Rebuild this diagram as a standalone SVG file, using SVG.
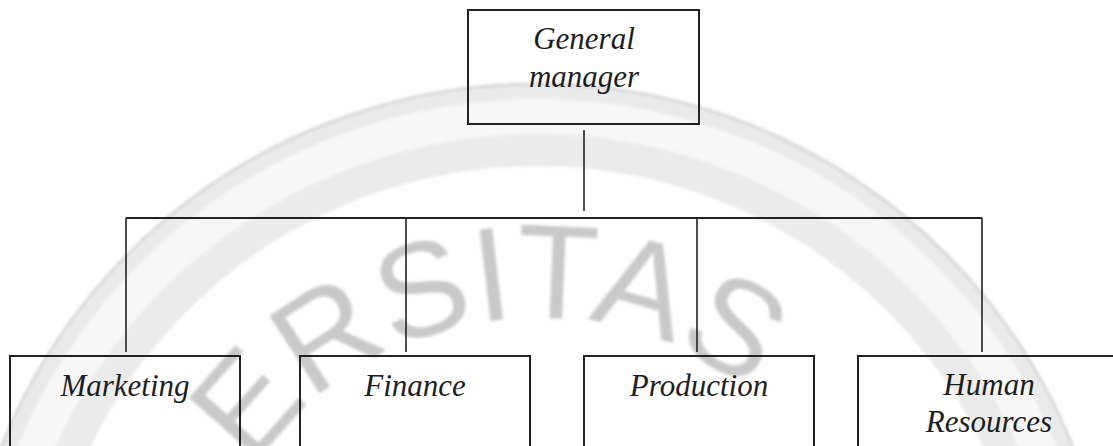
<svg xmlns="http://www.w3.org/2000/svg" width="1113" height="446" viewBox="0 0 1113 446">
  <style>
    .box { fill: none; stroke: #222; stroke-width: 2; }
    .link { fill: none; stroke: #222; stroke-width: 1.6; }
    .bus { fill: none; stroke: #222; stroke-width: 2; }
    .label { font-family: "Liberation Serif", "Times New Roman", serif; font-style: italic; font-size: 31px; fill: #1e1e1e; text-anchor: middle; }
    .wm-text { font-family: "Liberation Sans", Arial, sans-serif; font-size: 134px; letter-spacing: 0px; fill: #c9c9c9; }
  </style>
  <defs>
    <filter id="soft" x="-10%" y="-10%" width="120%" height="120%">
      <feGaussianBlur stdDeviation="1.6"/>
    </filter>
    <!-- upper half of the seal's lettering circle -->
    <path id="sealArc" d="M 194 661 A 343 343 0 0 1 880 661"/>
  </defs>

  <rect width="1113" height="446" fill="#ffffff"/>

  <!-- faint seal in the background -->
  <g id="seal" filter="url(#soft)">
    <circle cx="537" cy="661" r="545" fill="none" stroke="#f7f7f7" stroke-width="36"/>
    <circle cx="537" cy="661" r="570" fill="none" stroke="#eaeaea" stroke-width="16"/>
    <circle cx="537" cy="661" r="577" fill="none" stroke="#d8d8d8" stroke-width="3"/>
    <circle cx="537" cy="661" r="511" fill="none" stroke="#ebebeb" stroke-width="32"/>
    <text class="wm-text"><textPath href="#sealArc" startOffset="204">ERSITAS</textPath></text>
  </g>

  <!-- connectors -->
  <g id="connectors">
    <line class="link" x1="584" y1="130" x2="584" y2="211"/>
    <line class="bus" x1="126" y1="218" x2="982" y2="218"/>
    <line class="link" x1="126" y1="218" x2="126" y2="352"/>
    <line class="link" x1="406" y1="219" x2="406" y2="352"/>
    <line class="link" x1="697" y1="219" x2="697" y2="352"/>
    <line class="link" x1="982" y1="218" x2="982" y2="352"/>
  </g>

  <!-- nodes -->
  <g id="general-manager">
    <rect class="box" x="468" y="10" width="231" height="114"/>
    <text class="label" x="584" y="49">General</text>
    <text class="label" x="584" y="87">manager</text>
  </g>
  <g id="marketing">
    <rect class="box" x="10" y="356" width="230" height="120"/>
    <text class="label" x="125" y="396">Marketing</text>
  </g>
  <g id="finance">
    <rect class="box" x="300" y="356" width="230" height="120"/>
    <text class="label" x="415" y="396">Finance</text>
  </g>
  <g id="production">
    <rect class="box" x="584" y="356" width="230" height="120"/>
    <text class="label" x="699" y="396">Production</text>
  </g>
  <g id="human-resources">
    <rect class="box" x="858" y="356" width="262" height="120"/>
    <text class="label" x="989" y="395">Human</text>
    <text class="label" x="989" y="432">Resources</text>
  </g>
</svg>
